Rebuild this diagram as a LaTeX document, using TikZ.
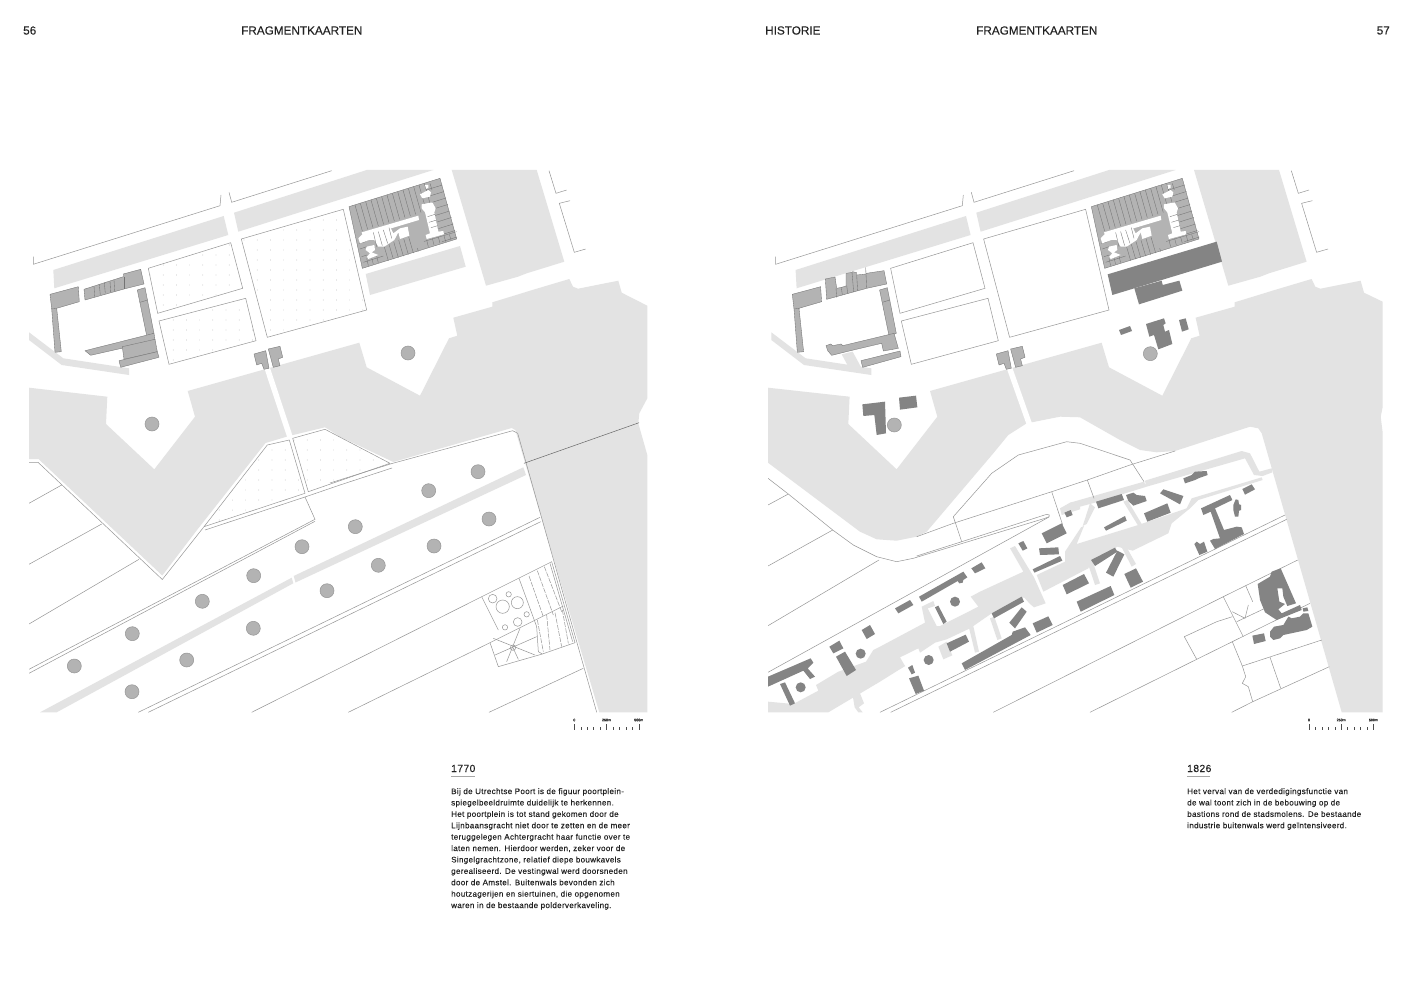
\documentclass[tikz,border=0pt]{standalone}
\usepackage{fontspec}
\setmainfont{Liberation Sans}[FakeBold=0.12]
\newfontfamily\bodyf{Liberation Sans}[LetterSpace=4,FakeBold=0.18]
\definecolor{wat}{HTML}{E3E3E3}
\definecolor{mid}{HTML}{B3B3B3}
\definecolor{drk}{HTML}{848484}
\definecolor{lin}{HTML}{969696}
\definecolor{ink}{HTML}{222222}
\tikzset{
 water/.style={fill=wat,draw=none},
 thinl/.style={draw=lin,line width=0.5pt,line join=miter},
 bld/.style={fill=mid,draw=black!55,line width=0.35pt},
 pline/.style={draw=black!55,line width=0.35pt},
 tree/.style={fill=mid,draw=lin,line width=0.5pt},
 head/.style={font=\fontsize{11.75}{14}\selectfont,text=ink,inner sep=0pt},
 body/.style={font=\bodyf\fontsize{8.05}{11.4}\selectfont,text=ink,inner sep=0pt,align=left,anchor=north west},
 year/.style={font=\bodyf\fontsize{10.3}{12}\selectfont,text=ink,inner sep=0pt,anchor=base west},
 sc/.style={font=\fontsize{3.6}{4}\selectfont,text=ink,inner sep=0pt},
 zS/.style={shift={(760,420)},scale=0.33333},
 zT/.style={shift={(1070,420)},scale=0.33333},
 zU/.style={shift={(1070,160)},scale=0.33333},
 zV/.style={shift={(760,160)},scale=0.33333},
 zW/.style={shift={(880,500)},scale=0.33333},
 zK/.style={shift={(345,175)},scale=0.33333},
}
\newcommand\blockNE{%
 \begin{scope}[zK]
 \draw[bld] plot coordinates {(12,95)(285,10)(335,192)(52,280)} -- cycle;
 \foreach \i in {0,...,13} \draw[pline] ({30+16*\i},{90-5*\i}) -- ++(22,78);
 \foreach \i in {0,...,8} \draw[pline] ({292+5.5*\i},{30+19.5*\i}) -- ++(-45,14);
 \foreach \i in {0,...,6} \draw[pline] ({130+15*\i},{257-4.6*\i}) -- ++(-14,-48);
 \foreach \a/\b/\c/\d in {240/30/246/50,255/25/261/45,65/250/70/272,80/248/85/268,95/243/100/263,245/195/250/215,262/190/267/210,280/186/285/205,297/182/302/200,313/178/318/195,235/200/335/170,40/190/50/188,42/205/62/200,45/222/65/215,50/245/66/240,55/262/115/243}
   \draw[pline] (\a,\b) -- (\c,\d);
 \fill[mid] plot coordinates {(185,145)(240,125)(250,175)(238,195)(232,212)(205,225)(195,185)} -- cycle;
 \fill[white] plot coordinates {(50,172)(220,122)(222,135)(55,185)} -- cycle;
 \fill[white] plot coordinates {(52,178)(135,155)(145,175)(165,160)(188,155)(193,182)(165,192)(160,172)(148,195)(118,215)(100,215)(88,195)(72,195)(45,205)(40,190)} -- cycle;
 \fill[white] plot coordinates {(65,215)(88,210)(90,225)(80,232)(100,240)(70,252)(66,245)(75,235)(62,225)} -- cycle;
 \fill[white] plot coordinates {(230,88)(262,82)(272,100)(268,112)(280,170)(295,168)(297,178)(245,192)(242,180)(255,175)(240,112)(230,100)} -- cycle;
 \fill[white] plot coordinates {(225,58)(250,45)(258,52)(255,65)(232,70)} -- cycle;
 \fill[white] plot coordinates {(240,30)(250,30)(250,38)(243,42)} -- cycle;
 \foreach \a/\b/\c/\d in {85/172/95/215,100/170/112/212,115/165/128/205,132/158/140/190,248/125/270/118,252/142/275/135,258/158/278/152}
   \draw[pline] (\a,\b) -- (\c,\d);
 \end{scope}}
\newcommand\northpart{%
 \fill[water] plot coordinates {(53.3,270)(223.7,216)(228.3,235)(54.3,288.3)} -- cycle;
 \fill[water] plot coordinates {(234,212.7)(366.7,170)(433.3,170)(238.3,231.7)} -- cycle;
 \fill[water] plot coordinates {(451.7,170)(536.7,170)(564.3,261.7)(526.7,273.3)(518,276.7)(486,285.7)} -- cycle;
 \fill[water] plot coordinates {(29,332.3)(63.3,358.3)(129,368.3)(129,375)(61.7,365)(29,340)} -- cycle;
 \draw[thinl] plot coordinates {(33.3,256.7)(33.3,264.3)(220,205.7)(221,195)};
 \draw[thinl] plot coordinates {(229,192.3)(231.7,202.3)(331.7,170.7)};
 \draw[thinl] plot coordinates {(549,170.7)(556,193.3)(566.7,190)};
 \draw[thinl] plot coordinates {(570,200.7)(559.3,203.3)(574.3,252.3)(585.7,249)};
 \draw[thinl] plot coordinates {(148.3,268.3)(230.7,242.7)(242.7,288.3)(157.7,313.3)} -- cycle;
 \draw[thinl] plot coordinates {(159,321)(245.7,298.3)(256,340.7)(169,364.3)} -- cycle;
 \draw[thinl] plot coordinates {(241.3,239)(343.3,209.3)(366.7,310)(267.3,337.3)} -- cycle;
 \draw[bld] plot coordinates {(254,354)(265.7,350.7)(269,368.3)(264,369.3)(261.7,363.3)(256.7,365)} -- cycle;
 \draw[bld] plot coordinates {(268.3,349)(280,346.3)(282.7,357.3)(278.3,359)(280,365.7)(273.3,367.3)} -- cycle;
 \draw[bld] plot coordinates {(137.3,290)(145,287.7)(154,333.3)(146.7,335.7)} -- cycle;
 \draw[bld] (140,302.3) -- (147.7,300);
 \draw[bld] plot coordinates {(50,294.3)(78.3,286.7)(79.3,301.7)(56.7,308.3)(61.3,351.7)(55,352.3)(51.7,309)} -- cycle;
 \draw[bld] (51.7,309) -- (56.7,308.3);
 \blockNE
}
\newcommand\dotgrid[4]{\foreach \x in {#1,#2,...,#3} \foreach \y in {#4} \fill[black!38] (\x,\y) circle[radius=0.35];}
\begin{document}
\begin{tikzpicture}[x=1pt,y=-1pt]
\useasboundingbox (0,0) rectangle (1412,1000);
\fill[white] (0,0) rectangle (1412,1000);
% =============== LEFT MAP
\begin{scope}
\clip (29,170) rectangle (647.3,712.3);
\fill[water] plot coordinates {(365.7,274)(460,246)(465.7,266.7)(370,295)} -- cycle;
\fill[water] plot coordinates {(29,387.7)(107.3,396.7)(106,424)(154.3,469.3)(195,416.7)(187.7,391)(359.3,342.7)(366.7,367.3)(420,395.7)(449,338.3)(457.3,335.7)(453.3,317.7)(492.3,306.7)(492.3,302.3)(521.7,293.3)(530,290.7)(569.3,279)(573,286.7)(578,288.7)(618.3,280.7)(621.7,292.7)(647.3,305.7)(647.3,398.3)(639.3,413.3)(638.3,423.3)(647.3,455)(647.3,712.3)(599.3,712.3)(515.3,430)(511.7,428)(393.3,462)(340,436.7)(325,427.3)(289,436)(265.5,443)(197,530)(162.3,575.5)(38.5,459)(29,459)} -- cycle;
\draw[white,line width=5.5pt] (266.5,366) -- (291,440);
\fill[water] plot coordinates {(40,712.3)(291.7,577.7)(293.3,583.3)(56.7,712.3)} -- cycle;
\fill[water] plot coordinates {(293.7,576)(523.3,467.3)(526,475)(295.5,582.5)} -- cycle;
\northpart
\draw[bld] plot coordinates {(84,289.3)(123.3,276.7)(123.3,274)(140.7,269.3)(144,284)(124,289)(85,300)} -- cycle;
\foreach \a/\b/\c/\d in {94/286/94.7/296.7,99.3/284.3/100.3/295,104.3/282.7/105.3/293.3,110/281/110.7/292.3,114/280/114.7/291,124/276.7/124/289}
  \draw[bld] (\a,\b) -- (\c,\d);
\draw[bld] plot coordinates {(85,350.7)(154,333.3)(155,340)(121.7,348.3)(90.7,355.3)} -- cycle;
\draw[bld] plot coordinates {(122.3,346.7)(155,339.3)(157.3,351.7)(124,359.3)} -- cycle;
\draw[bld] plot coordinates {(119,360.7)(157.3,351.7)(159,357.3)(120.7,367.3)} -- cycle;
% dotted plots
\begin{scope}\clip plot coordinates {(148.3,268.3)(230.7,242.7)(242.7,288.3)(157.7,313.3)} -- cycle; \dotgrid{150}{163.2}{245}{245,255,...,315} \end{scope}
\begin{scope}\clip plot coordinates {(159,321)(245.7,298.3)(256,340.7)(169,364.3)} -- cycle; \dotgrid{160}{173.2}{258}{300,310,...,365} \end{scope}
\begin{scope}\clip plot coordinates {(241.3,239)(343.3,209.3)(366.7,310)(267.3,337.3)} -- cycle; \dotgrid{244}{257.2}{368}{210,220,...,340} \end{scope}
\begin{scope}\clip plot coordinates {(267.3,445)(289.3,440)(305,493.3)(204,526.7)} -- cycle; \dotgrid{206}{219.2}{305}{440,450,...,530} \end{scope}
\begin{scope}\clip plot coordinates {(292.7,438.3)(325,429.3)(390,463.3)(308.3,491.7)} -- cycle; \dotgrid{294}{307.2}{390}{430,440,...,495} \end{scope}
% fence + zones
\draw[thinl] plot coordinates {(29,462.3)(38,462.3)(162.3,579.5)(204,526.7)(267.3,445)(289.3,440)(305,493.3)(204,526.7)};
\draw[thinl] plot coordinates {(292.7,438.3)(325,429.3)(390,463.3)(308.3,491.7)} -- cycle;
\draw[thinl] plot coordinates {(205,530)(305,497)(340,485)};
\draw[thinl] plot coordinates {(305,497)(315,519.3)(29,669.3)};
\draw[thinl] plot coordinates {(315,521.3)(29,673.3)};
\draw[thinl] plot coordinates {(330,483)(392,463.5)(512.7,430.7)(517.7,433.3)(596.7,712.3)};
\draw[thinl] plot coordinates {(340,485)(392,468)};
\draw[thinl] (29,503.3) -- (61.7,485);
\draw[thinl] (29,564.3) -- (101.7,524);
\draw[thinl] (29,624) -- (139,559.3);
\draw[thinl] (138.3,712.3) -- (540,517.3);
\draw[thinl] (148.3,712.3) -- (540.7,521.7);
\draw[thinl] (251.7,712.3) -- (481.7,596.7) -- (551.7,561.7);
\draw[thinl] (348.3,712.3) -- (490,642.7) -- (563.3,606);
\draw[thinl] (489,712.3) -- (583.3,668.3);
\draw[black!60,line width=0.5pt] (524,463.3) -- (639,422.7);
% garden
\begin{scope}[shift={(330,420)},scale=0.33333]
\draw[thinl] (455,530) -- (505,630);
\draw[thinl] plot coordinates {(480,668)(505,740)(637,702)(735,668)(665,425)};
\draw[thinl] (660,430) -- (728,665);
\draw[thinl] plot coordinates {(567,475)(620,620)(625,695)(637,702)};
\foreach \a/\b/\c/\d in {597/468/640/590,622/452/670/585,643/440/695/575,622/600/640/695,650/585/660/690,675/578/695/680,697/570/715/670}
  \draw[thinl,dash pattern=on 5pt off 1.2pt] (\a,\b) -- (\c,\d);
\foreach \a/\b/\c in {488/536/13,518/560/20,536/523/8,562/548/18,590/583/8,563/606/13,525/622/8,549/683/8}
  \draw[thinl] (\a,\b) circle[radius=\c];
\foreach \a/\b/\c/\d in {570/625/530/725,495/705/620/650,490/655/615/705,549/683/565/718}
  \draw[thinl] (\a,\b) -- (\c,\d);
\end{scope}
% trees
\foreach \a/\b in {74.3/666,132.3/633.7,132/691.7,186.7/660,202.3/601.3,253.3/628.3,253.7/575.7,302/546.7,327/590.7,355.3/526.7,378.3/565.3,428.7/490.7,434/546,478/471.7,489/519,152/424,408/353}
  \draw[tree] (\a,\b) circle[radius=7];
\end{scope}
% =============== RIGHT MAP
\begin{scope}
\clip (768,170) rectangle (1382.7,712.3);
% water
\fill[water] plot coordinates {(768,387.7)(849.6,396.7)(848.3,424)(896.6,469.3)(937.3,416.7)(930,391)(1101.6,342.7)(1109,367.3)(1162.3,395.7)(1191.3,338.3)(1199.6,335.7)(1195.6,317.7)(1234.6,306.7)(1234.6,302.3)(1264,293.3)(1272.3,290.7)(1311.6,279)(1315.3,286.7)(1320.3,288.7)(1360.6,280.7)(1364,292.7)(1382.7,301.7)(1382.7,406.7)(1380.7,416.7)(1382.7,433)(1382.7,712.3)(1341.7,712.3)(1261.7,433.3)(1258.3,428.3)(1250,426.7)(1175,451)(1156.7,452.3)(1140,450)(1120,440)(1080,417.3)(1060,416.7)(1026.7,423.3)(1008.3,435)(993.3,453.3)(926.7,531.7)(916.7,536.7)(896.7,540.7)(876.7,539.3)(860,531.7)(768,462.7)} -- cycle;
\draw[white,line width=5.5pt] (1008.8,366) -- (1030,426);
% canal bands
\begin{scope}[zS]
\fill[water] plot coordinates {(24,845)(100,852)(175,812)(168,795)(235,755)(318,725)(340,690)(360,680)(435,738)(360,785)(205,877)(24,877)} -- cycle;
\fill[water] plot coordinates {(278,826)(300,820)(312,850)(296,862)(308,877)(295,877)(284,862)} -- cycle;
\end{scope}
\begin{scope}[zW]
\fill[water] plot coordinates {(0,440)(135,368)(125,320)(160,303)(165,318)(143,325)(170,378)(180,378)(295,320)(272,290)(300,275)(430,215)(390,145)(405,138)(462,232)(497,310)(462,322)(450,312)(432,292)(335,340)(270,385)(200,418)(165,428)(120,458)(115,445)(60,472)(75,498)(0,540)} -- cycle;
\fill[water] plot coordinates {(175,440)(200,425)(217,466)(190,478)} -- cycle;
\fill[water] plot coordinates {(265,375)(278,370)(297,455)(285,458)} -- cycle;
\fill[water] plot coordinates {(330,355)(343,350)(365,415)(352,420)} -- cycle;
\fill[water] plot coordinates {(540,25)(570,8)(600,8)(600,28)(545,45)} -- cycle;
\end{scope}
\begin{scope}[zT]
\fill[water] plot coordinates {(0,248)(222,185)(228,198)(225,182)(515,93)(540,100)(568,155)(605,145)(607,157)(578,168)(552,165)(525,115)(230,200)(75,248)(0,268)} -- cycle;
\fill[water] plot coordinates {(160,245)(172,240)(217,315)(205,318)} -- cycle;
\fill[water] plot coordinates {(60,250)(75,262)(50,312)(38,318)} -- cycle;
\fill[water] plot coordinates {(-15,395)(33,322)(42,318)(20,372)(205,315)(350,265)(365,235)(575,172)(578,180)(385,240)(360,265)(305,310)(295,340)(188,392)(142,380)(62,430)(55,445)(-80,515)(-100,465)(-15,425)} -- cycle;
\fill[water] plot coordinates {(150,372)(163,370)(198,432)(185,440)} -- cycle;
\fill[water] plot coordinates {(50,420)(65,415)(90,490)(75,495)} -- cycle;
\end{scope}
\begin{scope}[shift={(742.3,0)}]\northpart\end{scope}
% row variants
\begin{scope}[zV]
\fill[water] plot coordinates {(245,583)(278,575)(305,625)(265,620)} -- cycle;
\draw[bld] plot coordinates {(196,357)(225,351)(230,385)(245,382)(258,378)(258,340)(276,337)(278,335)(290,338)(290,345)(318,342)(319,340)(372,332)(380,372)(320,385)(200,418)} -- cycle;
\foreach \a/\b/\c/\d in {228/385/230/412,244/382/247/405,260/376/263/400,276/337/281/396,290/345/293/392,317/322/320/383}
  \draw[bld] (\a,\b) -- (\c,\d);
\draw[bld] plot coordinates {(198,557)(212,552)(218,557)(243,552)(248,557)(402,520)(415,565)(370,573)(365,550)(280,570)(215,586)(203,572)} -- cycle;
\draw[bld] plot coordinates {(303,602)(420,573)(423,590)(308,622)} -- cycle;
\fill[drk] plot coordinates {(307,733)(375,725)(378,820)(350,825)(343,765)(310,768)} -- cycle;
\fill[drk] plot coordinates {(417,713)(468,707)(472,742)(420,749)} -- cycle;
\end{scope}
\draw[tree] (894.3,425) circle[radius=7];
\begin{scope}[zU]
\fill[drk] plot coordinates {(113,343)(440,245)(456,305)(127,405)} -- cycle;
\fill[drk] plot coordinates {(193,385)(275,362)(278,375)(328,362)(337,392)(207,433)} -- cycle;
\fill[drk] plot coordinates {(147,510)(180,498)(186,513)(153,525)} -- cycle;
\fill[drk] plot coordinates {(228,492)(282,475)(287,490)(280,495)(285,515)(297,510)(307,552)(265,568)(252,525)(238,530)} -- cycle;
\fill[drk] plot coordinates {(327,480)(347,475)(356,508)(336,515)} -- cycle;
\end{scope}
\draw[tree] (1150.3,353.7) circle[radius=7];
% thin lines
\draw[thinl] plot coordinates {(768,478.3)(788.3,494)(832.7,530)(853.3,545)(876.7,556.7)(896.7,561.7)(913.3,558.3)(1045,518.3)(1049,516.7)(1049.3,515)(1046.7,514.3)(961.7,541.7)(916.7,556)};
\draw[thinl] (1049,517) -- (768,672.3);
\draw[thinl] plot coordinates {(916.7,536.7)(953.3,523.3)(1051.7,491.7)(1087.3,480)(1130,465)(1175,451)};
\draw[thinl] plot coordinates {(961.7,541.7)(953.3,516.7)(991.7,473.3)(1018.3,455)(1066.7,441.7)(1080,443.3)(1130,460)(1144,481.7)};
\draw[thinl] (1051.7,491.7) -- (1062.7,525);
\draw[thinl] (1087.3,480) -- (1094,498.3);
\draw[thinl] (768,505) -- (788.3,494);
\draw[thinl] (768,566) -- (832.7,530);
\draw[thinl] (768,625.7) -- (879,560);
\draw[thinl] (880,712.3) -- (1285,515);
\draw[thinl] (890.7,712.3) -- (1286.7,519.3);
\draw[thinl] (993.3,712.3) -- (1223.3,596.7) -- (1297.7,560);
\draw[thinl] (1090,712.3) -- (1196.7,659.3) -- (1232.3,641.7) -- (1310,603.3);
\draw[thinl] (1231.7,712.3) -- (1252.7,701.7) -- (1329.3,666.7);
\draw[thinl] (1184.3,636.7) -- (1196.7,659.3);
\draw[thinl] plot coordinates {(1184.3,636.7)(1216.7,621.7)(1232.3,616.7)};
\draw[thinl] (1223.3,596.7) -- (1243.3,636.7);
\draw[thinl] plot coordinates {(1232.3,641.7)(1242.3,666)(1245.7,676.7)(1242.3,683.3)(1248.3,686.7)(1252.7,701.7)};
\draw[thinl] (1242.3,666) -- (1321.7,640);
\draw[thinl] (1270,657.3) -- (1280.7,688.3);
\draw[thinl] plot coordinates {(1232.3,611.7)(1245,618.3)(1248.3,605)};
\draw[thinl] (1236.7,621.7) -- (1265,608.3);
\draw[thinl] (1245.7,585.7) -- (1252.7,601.7);
% buildings
\begin{scope}[zS]
\fill[drk] plot coordinates {(24,770)(152,715)(160,728)(143,745)(165,770)(150,777)(130,752)(24,800)} -- cycle;
\fill[drk] plot coordinates {(60,792)(75,787)(105,850)(90,857)} -- cycle;
\fill[drk] plot coordinates {(208,680)(238,662)(250,685)(220,700)} -- cycle;
\fill[drk] plot coordinates {(228,710)(255,695)(288,750)(260,768)} -- cycle;
\fill[drk] plot coordinates {(305,630)(330,615)(345,642)(320,657)} -- cycle;
\foreach \a/\b in {122/802,302/701}
  \fill[drk] (\a,\b) circle[radius=15];
\end{scope}
\begin{scope}[zW]
\fill[drk] plot coordinates {(245,490)(395,405)(398,395)(435,382)(452,405)(255,510)} -- cycle;
\fill[drk] plot coordinates {(335,340)(425,290)(432,305)(342,355)} -- cycle;
\fill[drk] plot coordinates {(388,368)(425,322)(440,335)(405,385)} -- cycle;
\fill[drk] plot coordinates {(548,255)(612,222)(627,250)(560,283)} -- cycle;
\fill[drk] plot coordinates {(458,208)(540,168)(547,182)(463,218)} -- cycle;
\fill[drk] plot coordinates {(477,145)(535,142)(537,163)(480,165)} -- cycle;
\fill[drk] plot coordinates {(415,130)(430,123)(442,145)(428,152)} -- cycle;
\fill[drk] plot coordinates {(485,100)(545,70)(560,100)(500,130)} -- cycle;
\fill[drk] plot coordinates {(117,290)(250,215)(262,232)(250,240)(248,248)(238,250)(233,243)(125,305)} -- cycle;
\fill[drk] plot coordinates {(45,325)(90,300)(100,315)(55,340)} -- cycle;
\fill[drk] plot coordinates {(274,205)(305,187)(316,205)(285,220)} -- cycle;
\fill[drk] plot coordinates {(165,322)(175,317)(200,365)(190,372)} -- cycle;
\fill[drk] plot coordinates {(84,503)(97,495)(105,518)(95,523)} -- cycle;
\fill[drk] plot coordinates {(87,535)(115,527)(132,572)(107,582)} -- cycle;
\fill[drk] plot coordinates {(200,430)(257,404)(267,425)(210,455)} -- cycle;
\fill[drk] plot coordinates {(458,370)(505,349)(518,375)(470,398)} -- cycle;
\fill[drk] plot coordinates {(633,180)(705,143)(712,155)(645,198)} -- cycle;
\fill[drk] plot coordinates {(678,218)(712,152)(733,163)(700,230)} -- cycle;
\fill[drk] plot coordinates {(733,222)(768,205)(789,245)(752,263)} -- cycle;
\fill[drk] plot coordinates {(590,305)(692,258)(703,285)(602,335)} -- cycle;
\fill[drk] plot coordinates {(553,38)(572,30)(578,45)(560,52)} -- cycle;
\foreach \a/\b in {225/305,146/480}
  \fill[drk] (\a,\b) circle[radius=15];
\end{scope}
\begin{scope}[zT]
\fill[drk] plot coordinates {(340,175)(365,165)(375,155)(410,153)(413,165)(385,175)(375,180)(345,190)} -- cycle;
\fill[drk] plot coordinates {(517,207)(545,193)(555,208)(525,224)} -- cycle;
\fill[drk] plot coordinates {(78,245)(155,222)(162,240)(85,265)} -- cycle;
\fill[drk] plot coordinates {(168,225)(190,218)(200,225)(225,228)(230,243)(190,257)(175,243)} -- cycle;
\fill[drk] plot coordinates {(270,220)(280,208)(340,228)(330,253)} -- cycle;
\fill[drk] plot coordinates {(222,280)(292,250)(302,278)(232,305)} -- cycle;
\fill[drk] plot coordinates {(102,322)(165,288)(170,302)(108,332)} -- cycle;
\fill[drk] plot coordinates {(393,265)(480,225)(487,240)(435,265)(462,330)(500,320)(515,322)(522,342)(435,387)(420,362)(430,357)(450,355)(422,275)(400,285)} -- cycle;
\fill[drk] plot coordinates {(490,255)(497,238)(505,240)(507,253)(513,255)(513,270)(507,272)(505,290)(495,290)(490,270)} -- cycle;
\fill[drk] plot coordinates {(373,372)(380,365)(390,372)(402,365)(412,395)(388,405)} -- cycle;
\fill[drk] plot coordinates {(563,492)(600,470)(605,455)(632,445)(678,550)(652,558)(640,530)(637,505)(622,505)(628,545)(645,552)(625,568)(635,580)(690,555)(695,570)(620,600)(585,577)(570,540)} -- cycle;
\fill[drk] plot coordinates {(600,635)(612,620)(640,615)(655,590)(665,595)(690,590)(700,580)(715,580)(727,620)(710,630)(640,645)(630,655)(610,660)(600,650)} -- cycle;
\fill[drk] plot coordinates {(698,565)(712,562)(715,573)(700,575)} -- cycle;
\fill[drk] plot coordinates {(547,647)(582,640)(587,663)(552,672)} -- cycle;
\end{scope}
\end{scope}
% =============== HEADERS
\node[head,anchor=west] (pl) at (23,30.5) {56};
\node[head,anchor=west] (hl) at (241,30.5) {FRAGMENTKAARTEN};
\node[head,anchor=west] (hh) at (765,30.5) {HISTORIE};
\node[head,anchor=west] (hr) at (976,30.5) {FRAGMENTKAARTEN};
\node[head,anchor=east] (pr) at (1390,30.5) {57};
% =============== TEXT
\node[year] (ya) at (451,772) {1770};
\draw[black!35,line width=1pt] (451,776) -- (474.5,776);
\node[body] (ta) at (451,788) {Bij de Utrechtse Poort is de figuur poortplein-\\spiegelbeeldruimte duidelijk te herkennen.\\Het poortplein is tot stand gekomen door de\\Lijnbaansgracht niet door te zetten en de meer\\teruggelegen Achtergracht haar functie over te\\laten nemen. Hierdoor werden, zeker voor de\\Singelgrachtzone, relatief diepe bouwkavels\\gerealiseerd. De vestingwal werd doorsneden\\door de Amstel. Buitenwals bevonden zich\\houtzagerijen en siertuinen, die opgenomen\\waren in de bestaande polderverkaveling.};
\node[year] (yb) at (1187,772) {1826};
\draw[black!35,line width=1pt] (1187,776) -- (1210,776);
\node[body] (tb) at (1187,788) {Het verval van de verdedigingsfunctie van\\de wal toont zich in de bebouwing op de\\bastions rond de stadsmolens. De bestaande\\industrie buitenwals werd geïntensiveerd.};
% =============== SCALE BARS
\foreach \ox/\tag in {574.3/a,1309/b}{
 \node[sc] (z\tag) at (\ox,720) {0};
 \node[sc] (m\tag) at (\ox+32.2,720) {250m};
 \node[sc] (e\tag) at (\ox+64.4,720) {500m};
 \foreach \i in {0,...,10} \draw[black!70,line width=0.35pt] ({\ox+6.44*\i},729.5) -- ++(0,-2.5);
 \foreach \i in {0,5,10} \draw[black!70,line width=0.35pt] ({\ox+6.44*\i},729.5) -- ++(0,-6);
}
\end{tikzpicture}
\end{document}
